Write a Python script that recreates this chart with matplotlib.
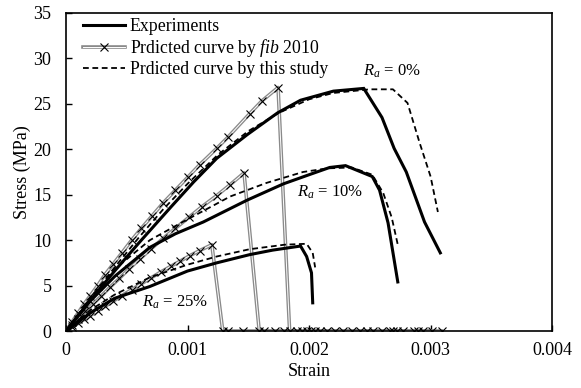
import matplotlib
matplotlib.use("Agg")
import matplotlib.pyplot as plt
import matplotlib.patheffects as pe
from matplotlib.legend_handler import HandlerTuple

plt.rcParams["font.family"] = ["Liberation Serif", "DejaVu Serif"]
plt.rcParams["mathtext.fontset"] = "custom"
plt.rcParams["mathtext.rm"] = "Liberation Serif"
plt.rcParams["mathtext.it"] = "Liberation Serif:italic"

# Experimental stress-strain curves
exp0_strain = [0, 0.0002, 0.0004, 0.0006, 0.00086, 0.00105, 0.00124, 0.00149, 0.00174,
               0.00193, 0.0022, 0.00245, 0.0026, 0.0027, 0.0028, 0.00295, 0.00308]
exp0_stress = [0, 3.4, 6.6, 9.7, 13.6, 16.4, 19.0, 21.6, 24.0,
               25.4, 26.4, 26.7, 23.5, 20.1, 17.5, 12.0, 8.6]
exp10_strain = [0, 0.0002, 0.0004, 0.00069, 0.0009, 0.00113, 0.00149, 0.00179, 0.002,
                0.00217, 0.0023, 0.00252, 0.00258, 0.00265, 0.00273]
exp10_stress = [0, 3.3, 6.0, 9.2, 10.7, 12.0, 14.4, 16.2, 17.2,
                18.0, 18.2, 17.0, 15.5, 11.9, 5.4]
exp25_strain = [0, 0.0002, 0.0004, 0.00069, 0.001, 0.00124, 0.00151, 0.0017, 0.00193,
                0.00198, 0.00202, 0.00203]
exp25_stress = [0, 2.0, 3.6, 4.9, 6.6, 7.5, 8.4, 8.9, 9.35, 8.2, 6.4, 3.1]

# Proposed model
mod0_strain = [0, 0.0002, 0.0004, 0.0006, 0.0008, 0.001, 0.00125, 0.0015, 0.00175, 0.002,
               0.0022, 0.0025, 0.00269, 0.00281, 0.00291, 0.003, 0.00306]
mod0_stress = [0, 3.6, 7.0, 10.3, 13.4, 16.2, 19.4, 22.0, 24.0, 25.5,
               26.2, 26.6, 26.6, 25.1, 20.7, 17.0, 13.1]
mod10_strain = [0, 0.0002, 0.0004, 0.00069, 0.00096, 0.00135, 0.00165, 0.00195, 0.00215,
                0.00235, 0.00252, 0.00261, 0.00268, 0.00273]
mod10_stress = [0, 3.6, 6.8, 10.0, 12.0, 14.8, 16.3, 17.5, 17.9,
                18.0, 17.2, 15.2, 12.5, 9.5]
mod25_strain = [0, 0.0002, 0.0004, 0.00069, 0.001, 0.00124, 0.00151, 0.0018, 0.00198,
                0.00203, 0.00205]
mod25_stress = [0, 2.3, 4.0, 5.9, 7.3, 8.2, 9.0, 9.5, 9.6, 8.6, 7.0]

# fib Model Code 2010 curves (ascending branch, sudden drop, zero residual)
fib0_strain = [0, 0.00005, 0.0001, 0.00015, 0.0002, 0.00026, 0.00032, 0.00039, 0.00046,
               0.00054, 0.00062, 0.00071, 0.0008, 0.0009, 0.001, 0.0011, 0.00124, 0.00133,
               0.00151, 0.00161, 0.001745,
               0.00184, 0.0019, 0.00202, 0.00205, 0.00221, 0.00242, 0.0026, 0.00269,
               0.00277, 0.00294, 0.00309]
fib0_stress = [0, 1.0, 2.0, 3.0, 3.9, 5.0, 6.2, 7.4, 8.6,
               10.0, 11.3, 12.7, 14.1, 15.5, 16.9, 18.3, 20.1, 21.3,
               23.9, 25.3, 26.8,
               0, 0, 0, 0, 0, 0, 0, 0, 0, 0, 0]
fib10_strain = [0, 0.00005, 0.0001, 0.00016, 0.00022, 0.00029, 0.00036, 0.00044, 0.00052,
                0.00061, 0.0007, 0.0008, 0.0009, 0.00101, 0.00112, 0.00124, 0.00135, 0.001465,
                0.00159, 0.00163, 0.00179, 0.00198, 0.00209, 0.00228, 0.00248, 0.00267,
                0.00286, 0.00301]
fib10_stress = [0, 0.7, 1.35, 2.15, 2.95, 3.85, 4.8, 5.8, 6.85,
                7.95, 9.05, 10.2, 11.3, 12.5, 13.7, 14.9, 16.1, 17.4,
                0, 0, 0, 0, 0, 0, 0, 0, 0, 0]
fib25_strain = [0, 0.00005, 0.0001, 0.00015, 0.0002, 0.00026, 0.00032, 0.00039, 0.00046,
                0.00054, 0.00062, 0.0007, 0.00078, 0.00086, 0.00094, 0.00102, 0.0011, 0.0012,
                0.00129, 0.00133, 0.00146, 0.00172, 0.00194, 0.00215, 0.00235, 0.00253,
                0.00272, 0.0029]
fib25_stress = [0, 0.43, 0.85, 1.27, 1.7, 2.2, 2.7, 3.3, 3.9,
                4.55, 5.2, 5.85, 6.5, 7.1, 7.7, 8.3, 8.85, 9.5,
                0, 0, 0, 0, 0, 0, 0, 0, 0, 0]

labels = ["Experiments", "Prdicted curve by $\\it{fib}$ 2010", "Prdicted curve by this study"]
ra_labels = ["$R_a$ = 0%", "$R_a$ = 10%", "$R_a$ = 25%"]
ra_pos = [(0.00244, 28.6), (0.0019, 15.3), (0.000625, 3.2)]
x_ticks = [0, 0.001, 0.002, 0.003, 0.004]
x_ticklabels = ["0", "0.001", "0.002", "0.003", "0.004"]

fig = plt.figure(figsize=(5.81, 3.88), dpi=100)
ax = fig.add_axes([0.1136, 0.1469, 0.8367, 0.8196])

double = [pe.Stroke(linewidth=2.6, foreground="#8a8a8a"), pe.Normal()]
fib_line = None
fib_mark = None
for xs, ys in [(fib0_strain, fib0_stress), (fib10_strain, fib10_stress), (fib25_strain, fib25_stress)]:
    ln, = ax.plot(xs, ys, color="white", lw=0.7, path_effects=double, zorder=2)
    mk, = ax.plot(xs, ys, ls="none", marker="x", ms=5.5, mew=0.8, color="black", zorder=3)
    fib_line, fib_mark = ln, mk

exp_line = None
for xs, ys in [(exp0_strain, exp0_stress), (exp10_strain, exp10_stress), (exp25_strain, exp25_stress)]:
    exp_line, = ax.plot(xs, ys, color="black", lw=2.2, zorder=4, solid_joinstyle="miter")

mod_line = None
for xs, ys in [(mod0_strain, mod0_stress), (mod10_strain, mod10_stress), (mod25_strain, mod25_stress)]:
    mod_line, = ax.plot(xs, ys, color="black", lw=1.3, ls=(0, (3.2, 2.0)), zorder=5)

for txt, (x, y) in zip(ra_labels, ra_pos):
    ax.text(x, y, txt, fontsize=12, va="center", ha="left")

ax.set_xlim(0, 0.004)
ax.set_ylim(0, 35)
ax.set_xticks(x_ticks)
ax.set_xticklabels(x_ticklabels)
ax.set_yticks(range(0, 36, 5))
ax.tick_params(direction="in", length=4, width=1, labelsize=13)
ax.tick_params(axis="x", pad=8)
ax.tick_params(axis="y", pad=10.5)
for s in ax.spines.values():
    s.set_linewidth(1.2)
ax.set_xlabel("Strain", fontsize=13)
ax.set_ylabel("Stress (MPa)", fontsize=13)
ax.xaxis.set_label_coords(0.5, -0.10)
ax.yaxis.set_label_coords(-0.072, 0.5)

ax.legend([exp_line, (fib_line, fib_mark), mod_line], labels,
          handler_map={tuple: HandlerTuple(ndivide=1)},
          loc="upper left", bbox_to_anchor=(0.02, 1.006), frameon=False,
          fontsize=12.8, handlelength=2.36, handletextpad=0.28, labelspacing=0.12,
          borderaxespad=0.0)

fig.savefig("out.png", dpi=100)
